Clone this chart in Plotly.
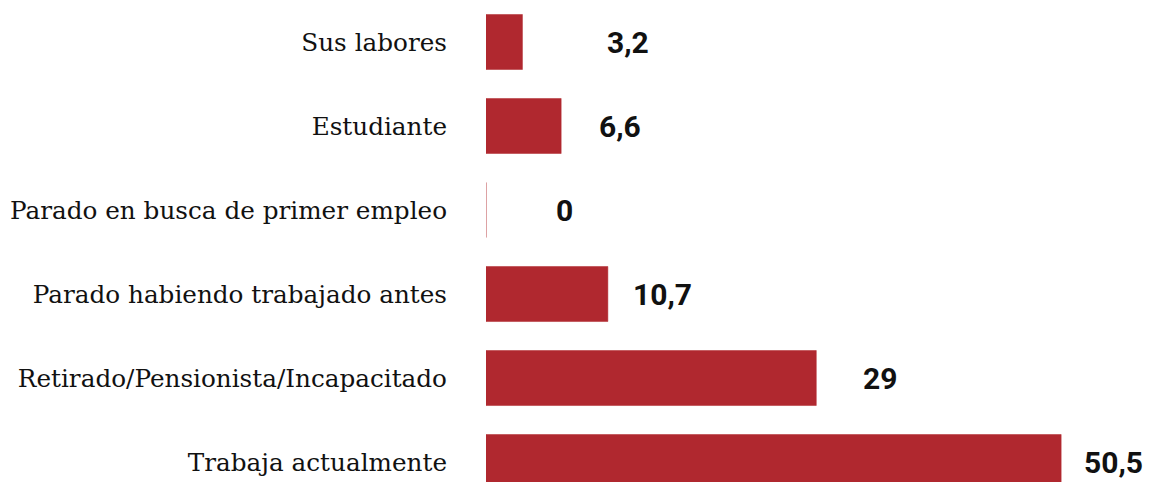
import plotly.graph_objects as go

categories = [
    "Trabaja actualmente",
    "Retirado/Pensionista/Incapacitado",
    "Parado habiendo trabajado antes",
    "Parado en busca de primer empleo",
    "Estudiante",
    "Sus labores",
]
values = [50.5, 29, 10.7, 0, 6.6, 3.2]
value_labels = ["50,5", "29", "10,7", "0", "6,6", "3,2"]

BAR_COLOR = "#B0282F"
# pixel offsets of the value labels past the bar end (as in the source)
label_shift = [21, 45, 23, 68, 36, 83]

positions = list(range(len(categories)))

fig = go.Figure()
fig.add_trace(
    go.Bar(
        x=values,
        y=positions,
        orientation="h",
        width=0.655,
        marker=dict(color=BAR_COLOR, line=dict(color=BAR_COLOR, width=0.5)),
        hoverinfo="skip",
    )
)

for pos, val, lab, shift in zip(positions, values, value_labels, label_shift):
    fig.add_annotation(
        x=val,
        y=pos,
        text=lab,
        showarrow=False,
        xanchor="left",
        xshift=shift,
        font=dict(family="Roboto", size=30, color="#111111", weight="bold"),
    )

fig.update_layout(
    width=1150,
    height=482,
    margin=dict(l=486, r=0, t=0, b=0),
    paper_bgcolor="white",
    plot_bgcolor="white",
    showlegend=False,
    xaxis=dict(range=[0, 58.3], visible=False, fixedrange=True),
    yaxis=dict(
        range=[-0.238, 5.5],
        tickvals=positions,
        ticktext=categories,
        showgrid=False,
        zeroline=False,
        showline=False,
        ticks="",
        ticklabelstandoff=38,
        tickfont=dict(family="DejaVu Serif", size=24.7, color="#111111"),
        fixedrange=True,
    ),
)

fig.write_html(
    "out.html",
    config={"displayModeBar": False},
    post_script="document.body.style.margin='0';document.body.style.overflow='hidden';",
)
